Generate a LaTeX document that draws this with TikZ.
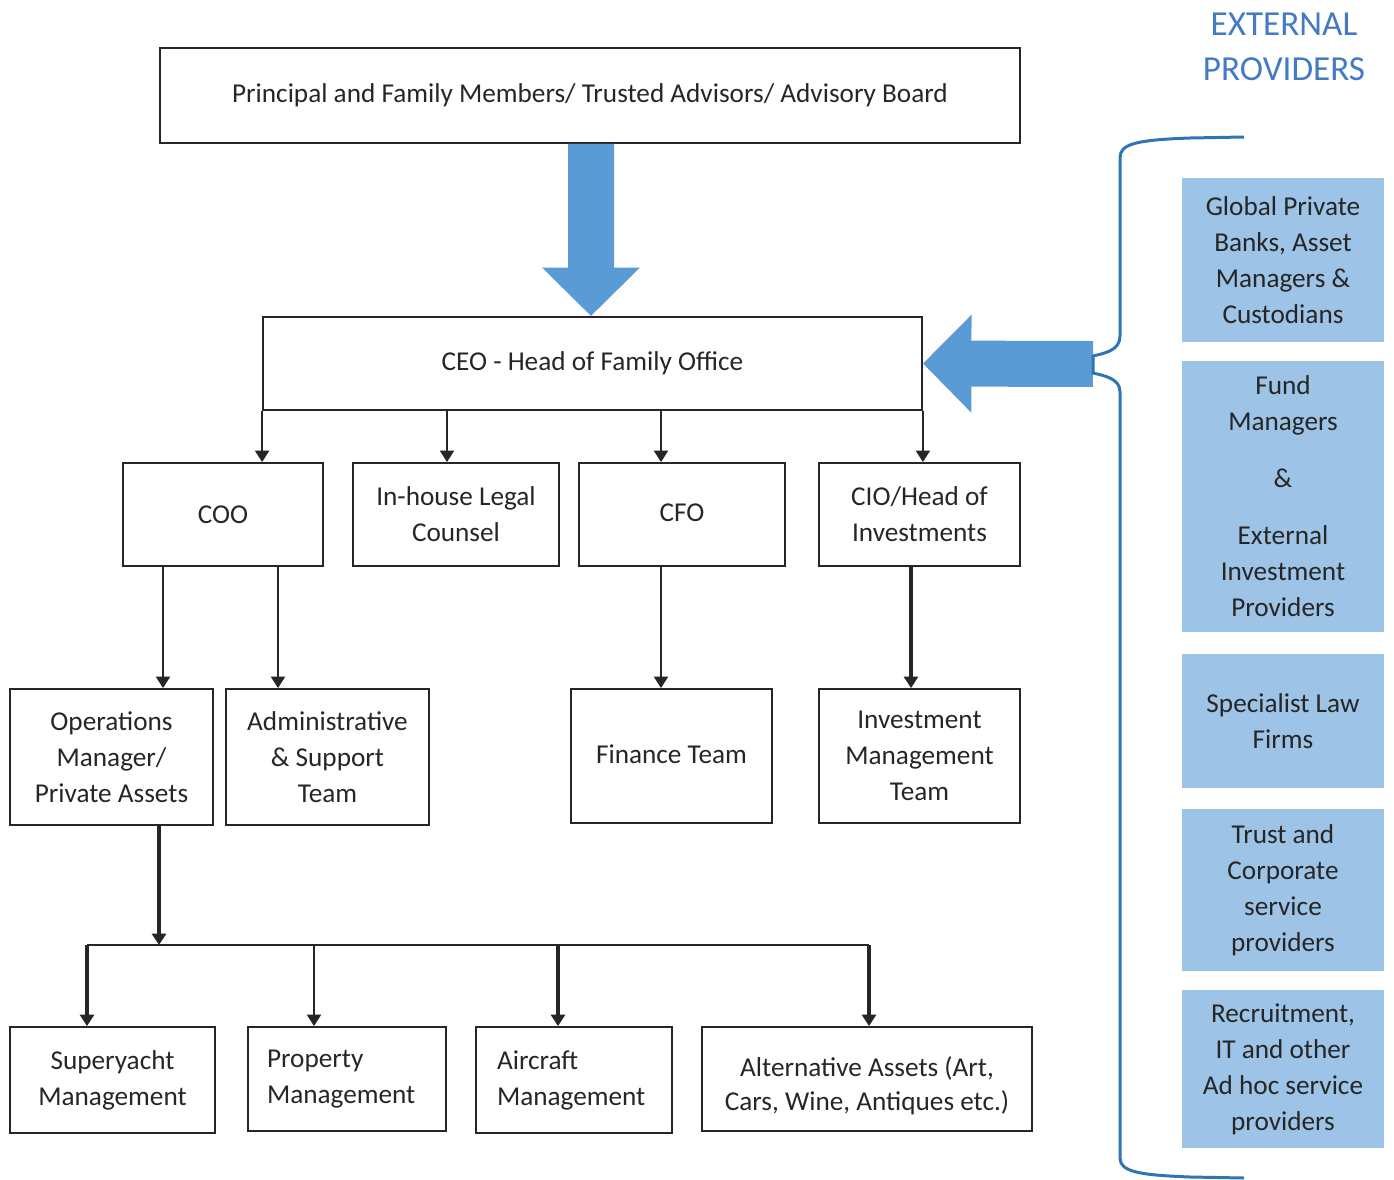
\documentclass[tikz,border=0pt]{standalone}
\usepackage{fontspec}
\setmainfont{Carlito}
\usetikzlibrary{arrows.meta}
\definecolor{arrowblue}{RGB}{91,155,213}
\definecolor{braceblue}{RGB}{46,117,182}
\definecolor{titleblue}{RGB}{68,122,196}
\definecolor{extfill}{RGB}{157,195,230}
\definecolor{inkgray}{RGB}{38,38,38}
\tikzset{
    box/.style={draw=inkgray, line width=1.1pt, text=inkgray, align=center, inner sep=0pt,
        font=\fontsize{15.5}{20.5}\selectfont},
    extbox/.style={fill=extfill, text=inkgray, align=center, inner sep=0pt,
        minimum width=4.04cm, font=\fontsize{15.5}{20.5}\selectfont},
    conn/.style={draw=inkgray, line width=1.1pt, -{Triangle[width=8pt,length=6.5pt]}},
    heavy/.style={line width=2.2pt},
    bigarrow/.style={draw=arrowblue, fill=arrowblue, line width=0.92cm, -{Triangle[width=1.9cm,length=0.97cm]}},
}
\begin{document}
\begin{tikzpicture}[x=0.02cm, y=-0.02cm]
    \useasboundingbox (0,0) rectangle (1394,1180);
    \node[box, minimum width=17.2cm, minimum height=1.9cm] (Board) at (590,95.5)
        {Principal and Family Members/ Trusted Advisors/ Advisory Board};
    \node[box, minimum width=13.18cm, minimum height=1.86cm] (CEO) at (592.5,363.5)
        {CEO - Head of Family Office};
    \node[box, minimum width=4cm, minimum height=2.06cm] (COO) at (223,514.5) {COO};
    \node[box, minimum width=4.12cm, minimum height=2.06cm] (Legal) at (456,514.5) {In-house Legal\\Counsel};
    \node[box, minimum width=4.12cm, minimum height=2.06cm] (CFO) at (682,514.5) {\raisebox{2pt}{CFO}};
    \node[box, minimum width=4.02cm, minimum height=2.06cm] (CIO) at (919.5,514.5) {CIO/Head of\\Investments};
    \node[box, minimum width=4.06cm, minimum height=2.72cm] (Ops) at (111.5,757) {Operations\\Manager/\\Private Assets};
    \node[box, minimum width=4.06cm, minimum height=2.72cm] (Admin) at (327.5,757) {Administrative\\\& Support\\Team};
    \node[box, minimum width=4.02cm, minimum height=2.68cm] (Finance) at (671.5,756) {\raisebox{2pt}{Finance Team}};
    \node[box, minimum width=4.02cm, minimum height=2.68cm] (InvTeam) at (919.5,756) {Investment\\Management\\Team};
    \node[box, minimum width=4.1cm, minimum height=2.12cm] (Yacht) at (112.5,1080) {Superyacht\\Management};
    \node[box, minimum width=3.96cm, minimum height=2.08cm, text width=3.2cm, align=left] (Property) at (347,1079)
        {Property\\Management};
    \node[box, minimum width=3.92cm, minimum height=2.12cm, text width=3.08cm, align=left] (Aircraft) at (574,1080)
        {Aircraft\\Management};
    \node[box, minimum width=6.6cm, minimum height=2.08cm] (AltAssets) at (867,1079)
        {\raisebox{-4pt}[\height][\depth]{\begin{tabular}{@{}c@{}}Alternative Assets (Art,\\[-1pt]Cars, Wine, Antiques etc.)\end{tabular}}};
    \node[text=titleblue, align=center, font=\fontsize{20}{26}\selectfont] (ExtTitle) at (1284,47)
        {EXTERNAL\\PROVIDERS};
    \node[extbox, minimum height=3.28cm] (Banks) at (1283,260)
        {Global Private\\Banks, Asset\\Managers \&\\Custodians};
    \node[extbox, minimum height=5.42cm] (Funds) at (1283,496.5)
        {Fund\\Managers\\[12pt]\&\\[12pt]External\\Investment\\Providers};
    \node[extbox, minimum height=2.68cm] (LawFirms) at (1283,721) {Specialist Law\\Firms};
    \node[extbox, minimum height=3.24cm] (Trust) at (1283,890) {Trust and\\Corporate\\service\\providers};
    \node[extbox, minimum height=3.16cm] (Recruit) at (1283,1069)
        {Recruitment,\\IT and other\\Ad hoc service\\providers};
    \draw[bigarrow] ([xshift=0.02cm]Board.south) -- ([xshift=-0.03cm]CEO.north);
    \coordinate (braceTip) at (1093,364);
    \draw[bigarrow] (braceTip) -- (CEO.east);
    \draw[braceblue, line width=1.7pt] (1244,137) -- (1190,138) .. controls (1135,140) and (1120,144) .. (1120,158)
        -- (1120,336) .. controls (1120,350) and (1106,353) .. (1093,356) -- (1093,373)
        .. controls (1106,376) and (1120,379) .. (1120,392) -- (1120,1158)
        .. controls (1120,1172) and (1140,1175) .. (1190,1177) -- (1244,1178);
    \draw[conn] (CEO.south west) -- (CEO.south west |- COO.north);
    \draw[conn] ([xshift=-0.18cm]Legal.north |- CEO.south) -- ([xshift=-0.18cm]Legal.north);
    \draw[conn] ([xshift=-0.42cm]CFO.north |- CEO.south) -- ([xshift=-0.42cm]CFO.north);
    \draw[conn] (CEO.south east) -- (CEO.south east |- CIO.north);
    \draw[conn] ([xshift=-1.2cm]COO.south) -- ([xshift=-1.2cm]COO.south |- Ops.north);
    \draw[conn] ([xshift=1.1cm]COO.south) -- ([xshift=1.1cm]COO.south |- Admin.north);
    \draw[conn] ([xshift=-0.42cm]CFO.south) -- ([xshift=-0.42cm]CFO.south |- Finance.north);
    \draw[conn, heavy] ([xshift=-0.17cm]CIO.south) -- ([xshift=-0.17cm]CIO.south |- InvTeam.north);
    \coordinate (bus) at (159,945);
    \coordinate (busL) at ([xshift=-0.51cm]Yacht.north |- bus);
    \coordinate (busR) at ([xshift=0.04cm]AltAssets.north |- bus);
    \draw[conn, heavy] ([xshift=0.95cm]Ops.south) -- (bus);
    \draw[draw=inkgray, line width=1.1pt] (busL) -- (busR);
    \draw[conn, heavy] (busL) -- (busL |- Yacht.north);
    \draw[conn] ([xshift=-0.66cm]Property.north |- bus) -- ([xshift=-0.66cm]Property.north);
    \draw[conn, heavy] ([xshift=-0.32cm]Aircraft.north |- bus) -- ([xshift=-0.32cm]Aircraft.north);
    \draw[conn, heavy] (busR) -- (busR |- AltAssets.north);
\end{tikzpicture}
\end{document}
